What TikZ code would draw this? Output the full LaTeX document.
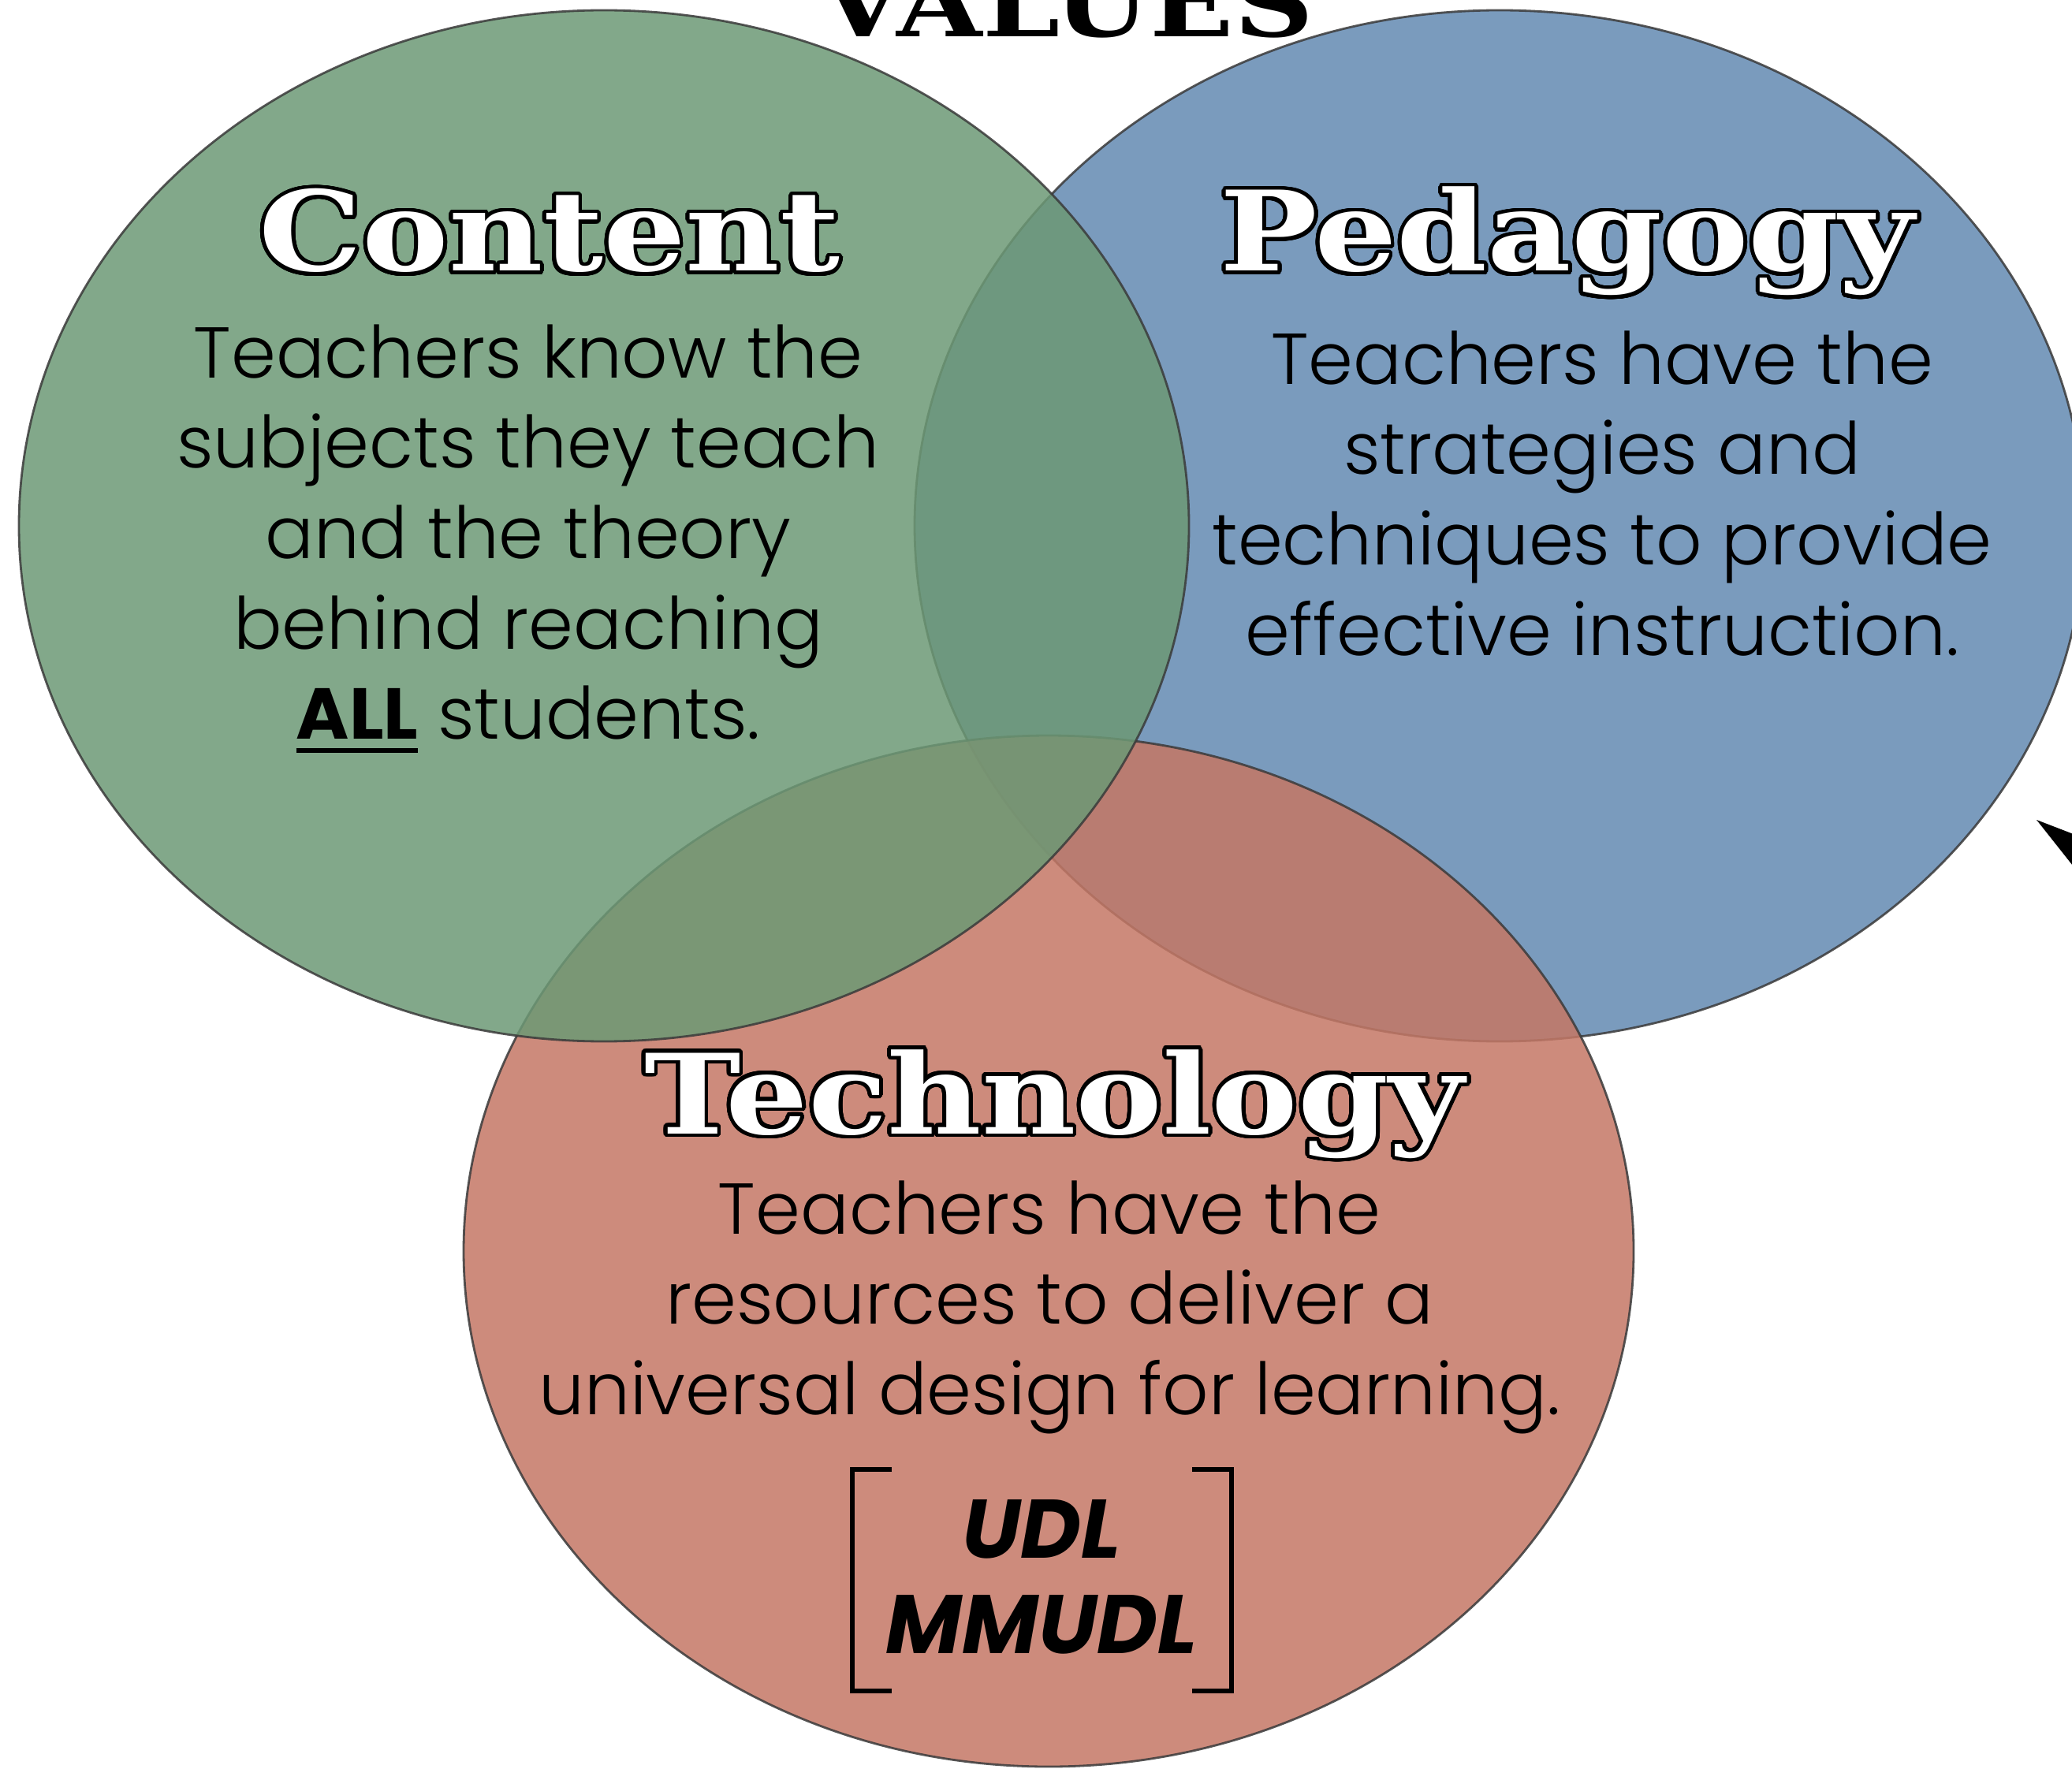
\documentclass[tikz,border=0pt]{standalone}
\usepackage{fontspec}
\usepackage{contour}
\usetikzlibrary{positioning}
\setmainfont{Poppins}[UprightFont=* Light, BoldFont=* Bold, BoldItalicFont=* Bold Italic]
\newfontfamily\headfont{DejaVu Serif}[FakeStretch=1.17]
\definecolor{contentgreen}{RGB}{108,153,117}
\definecolor{pedablue}{RGB}{99,137,177}
\definecolor{techred}{RGB}{196,119,101}
\definecolor{rimgray}{RGB}{58,58,58}
\contourlength{1.4pt}
\contournumber{32}
\newcommand{\thickul}[1]{\setbox0\hbox{#1}\rlap{\rule[-5pt]{\wd0}{1.9pt}}\box0\relax}

\begin{document}
\begin{tikzpicture}
    \tikzstyle{set} = [draw=rimgray, line width=0.8pt, opacity=0.85]
    \tikzstyle{head} = [text=white, font=\headfont\bfseries\fontsize{40}{44}\selectfont, anchor=base, inner sep=0pt]
    \tikzstyle{body} = [align=center, font=\fontsize{26}{32.6}\selectfont, anchor=north, inner sep=0pt]
    \tikzstyle{bracket} = [line width=1.8pt]
    \useasboundingbox (0,0) rectangle (26.28,-22.44);
        % circles
        \coordinate (cp) at (19.02,-6.67);
        \coordinate (ct) at (13.30,-15.87);
        \coordinate (cc) at (7.66,-6.67);
        \draw[set,fill=pedablue] (cp) ellipse [x radius=7.42, y radius=6.54];
        \draw[set,fill=techred] (ct) ellipse [x radius=7.42, y radius=6.54];
        \draw[set,fill=contentgreen] (cc) ellipse [x radius=7.42, y radius=6.54];
        % title and arrow
        \node[font=\headfont\bfseries\fontsize{34}{38}\selectfont, anchor=base, inner sep=0pt] (values) at (13.53,-0.47) {VALUES};
        \coordinate (tip) at (25.83,-10.40);
        \fill (tip) -- (26.40,-10.62) -- (26.40,-11.12) -- cycle;
        % content
        \node[head] (content) at (6.97,-3.44) {\contour{black}{Content}};
        \node[body] (contentbody) at (6.70,-4.11) {Teachers know the\\subjects they teach\\and the theory\\behind reaching\\\thickul{\bfseries ALL} students.};
        % pedagogy
        \node[head] (pedagogy) at (19.88,-3.44) {\contour{black}{Pedagogy}};
        \node[body] (pedagogybody) at (20.32,-4.19) {Teachers have the\\strategies and\\techniques to provide\\effective instruction.};
        % technology
        \node[head] (technology) at (13.37,-14.38) {\contour{black}{Technology}};
        \node[body] (technologybody) at (13.31,-14.97) {Teachers have the\\resources to deliver a\\universal design for learning.};
        \node[font=\bfseries\itshape\fontsize{30}{34.3}\selectfont, align=center, anchor=north, inner sep=0pt] (udl) at (13.21,-19.02) {UDL\\MMUDL};
        \draw[bracket] (11.31,-18.64) -- (10.81,-18.64) -- (10.81,-21.45) -- (11.31,-21.45);
        \draw[bracket] (15.12,-18.64) -- (15.62,-18.64) -- (15.62,-21.45) -- (15.12,-21.45);
\end{tikzpicture}
\end{document}
